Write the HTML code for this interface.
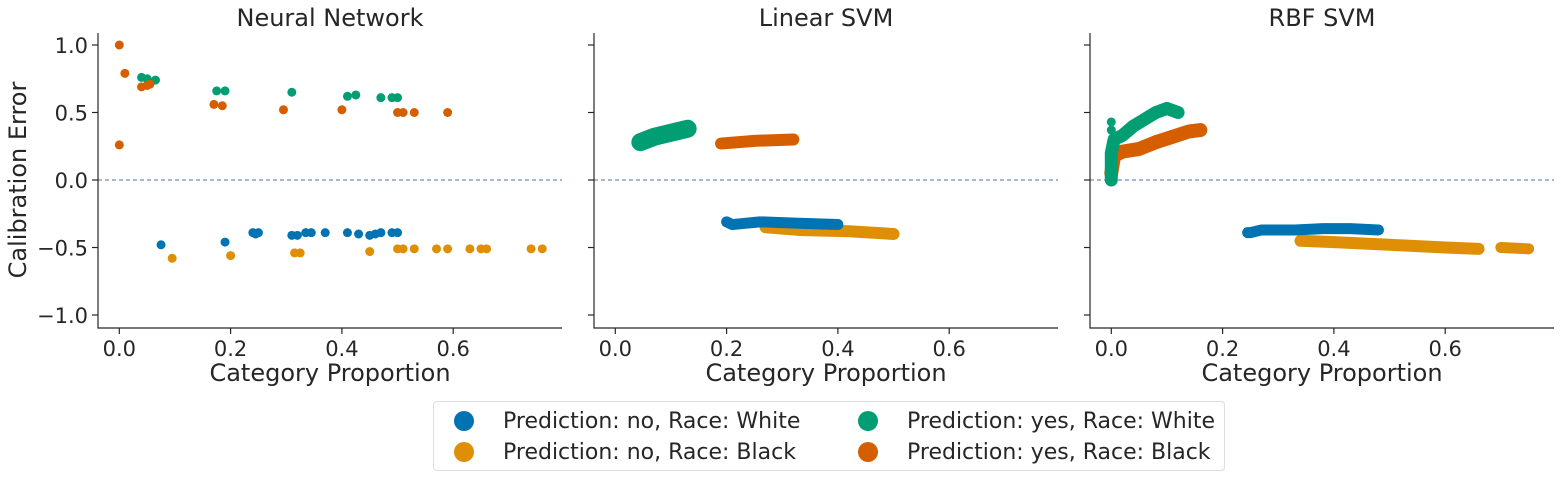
<!DOCTYPE html>
<html><head><meta charset="utf-8"><style>
body{margin:0;background:#fff;}
svg{display:block;font-family:"DejaVu Sans","Liberation Sans",sans-serif;}
</style></head><body>
<svg id="chart" width="1561" height="478" viewBox="0 0 1561 478" xmlns="http://www.w3.org/2000/svg">
<g id="legend">
<rect x="433.5" y="401.5" width="791" height="69" fill="#fff" stroke="#ddd" rx="3"/>
<g><circle cx="464" cy="421" r="10" fill="#0173b2"/><text x="503" y="428" font-size="22" fill="#262626">Prediction: no, Race: White</text></g>
<g><circle cx="464" cy="452" r="10" fill="#de8f05"/><text x="503" y="459" font-size="22" fill="#262626">Prediction: no, Race: Black</text></g>
<g><circle cx="868" cy="421" r="10" fill="#029e73"/><text x="907" y="428" font-size="22" fill="#262626">Prediction: yes, Race: White</text></g>
<g><circle cx="868" cy="452" r="10" fill="#d55e00"/><text x="907" y="459" font-size="22" fill="#262626">Prediction: yes, Race: Black</text></g>
</g>
<text x="26" y="180" font-size="24" fill="#262626" text-anchor="middle" transform="rotate(-90 26 180)">Calibration Error</text>
</svg>
<script>
const titles = ["Neural Network","Linear SVM","RBF SVM"];
const xTicks = [0,0.2,0.4,0.6];
const xTickLabels = ["0.0","0.2","0.4","0.6"];
const yTicks = [1,0.5,0,-0.5,-1];
const yTickLabels = ["1.0","0.5","0.0","\u22120.5","\u22121.0"];
const seriesNames = ["no-white","no-black","yes-white","yes-black"];
const seriesColors = ["#0173b2","#de8f05","#029e73","#d55e00"];
// Neural Network scatter points [x,y]
const nnNoWhite = [[0.075,-0.48],[0.19,-0.46],[0.24,-0.39],[0.25,-0.39],[0.245,-0.40],[0.31,-0.41],[0.32,-0.41],[0.335,-0.39],[0.345,-0.39],[0.37,-0.39],[0.41,-0.39],[0.43,-0.40],[0.45,-0.41],[0.46,-0.40],[0.47,-0.39],[0.49,-0.39],[0.50,-0.39]];
const nnNoBlack = [[0.095,-0.58],[0.2,-0.56],[0.315,-0.54],[0.325,-0.54],[0.45,-0.53],[0.50,-0.51],[0.51,-0.51],[0.53,-0.51],[0.57,-0.51],[0.59,-0.51],[0.63,-0.51],[0.65,-0.51],[0.66,-0.51],[0.74,-0.51],[0.76,-0.51]];
const nnYesWhite = [[0.04,0.76],[0.05,0.75],[0.065,0.74],[0.175,0.66],[0.19,0.66],[0.31,0.65],[0.41,0.62],[0.425,0.63],[0.47,0.61],[0.49,0.61],[0.50,0.61]];
const nnYesBlack = [[0,1.0],[0.01,0.79],[0.04,0.69],[0.05,0.70],[0.055,0.71],[0,0.26],[0.17,0.56],[0.185,0.55],[0.295,0.52],[0.40,0.52],[0.50,0.50],[0.51,0.50],[0.53,0.50],[0.59,0.50]];
// Linear SVM dense streaks [x,y]
const linNoWhite = [[0.20,-0.31],[0.21,-0.33],[0.26,-0.31],[0.33,-0.32],[0.40,-0.33]];
const linNoBlack = [[0.27,-0.35],[0.33,-0.37],[0.42,-0.38],[0.50,-0.40]];
const linYesWhite = [[0.045,0.28],[0.07,0.32],[0.10,0.35],[0.13,0.38]];
const linYesBlack = [[0.19,0.27],[0.25,0.29],[0.32,0.30]];
// RBF SVM
const rbfNoWhite = [[0.245,-0.39],[0.25,-0.39],[0.27,-0.37],[0.30,-0.37],[0.33,-0.37],[0.38,-0.36],[0.43,-0.36],[0.48,-0.37]];
const rbfNoBlack = [[0.34,-0.45],[0.40,-0.46],[0.50,-0.48],[0.60,-0.50],[0.66,-0.51]];
const rbfNoBlack2 = [[0.70,-0.50],[0.75,-0.51]];
const rbfYesWhite = [[0,0.0],[0.0,0.2],[0.005,0.3],[0.02,0.33],[0.04,0.40],[0.06,0.45],[0.08,0.50],[0.10,0.53],[0.12,0.50]];
const rbfYesWhiteDots = [[0,0.43],[0,0.37]];
const rbfYesBlack = [[0.0,0.05],[0.005,0.18],[0.02,0.21],[0.05,0.23],[0.08,0.28],[0.11,0.32],[0.14,0.36],[0.16,0.37]];

const NS="http://www.w3.org/2000/svg";
const svg=document.getElementById('chart');
const panelLeft=[98,594,1090], axW=464, axTop=33, axBot=328;
const x0off=21.3, xScale=556.5, yZero=180, yScale=135;
function mk(t,a,p){const e=document.createElementNS(NS,t);for(const k in a)e.setAttribute(k,a[k]);(p||svg).appendChild(e);return e;}
function xs(p,v){return panelLeft[p]+x0off+v*xScale;}
function ys(v){return yZero-v*yScale;}

const panels=[
 {pts:[nnNoWhite,nnNoBlack,nnYesWhite,nnYesBlack],lines:[]},
 {pts:[[],[],[],[]],lines:[[linYesWhite,2,18],[linYesBlack,3,12],[linNoBlack,1,12],[linNoWhite,0,11]]},
 {pts:[[],[],rbfYesWhiteDots,[]],lines:[[rbfNoBlack,1,12],[rbfNoBlack2,1,11],[rbfNoWhite,0,11],[rbfYesBlack,3,14],[rbfYesWhite,2,13]]}
];

for(let p=0;p<3;p++){
  const g=mk('g',{});
  
  
  const L=panelLeft[p];
  const t=mk('text',{x:L+axW/2,y:26,'font-size':24,fill:'#262626','text-anchor':'middle'},g);
  t.textContent=titles[p];
  
  
  const zl=mk('line',{x1:L,x2:L+axW,y1:ys(0),y2:ys(0),stroke:'#4c72b0','stroke-width':1.2,'stroke-dasharray':'4,3',opacity:0.8},g);
  
  
  const pd=panels[p];
  pd.lines.forEach(([arr,ci,w])=>{
    const pl=mk('polyline',{points:arr.map(d=>xs(p,d[0])+','+ys(d[1])).join(' '),fill:'none',stroke:seriesColors[ci],'stroke-width':w,'stroke-linecap':'round','stroke-linejoin':'round'},g);
    
    
  });
  pd.pts.forEach((arr,ci)=>{
    arr.forEach(d=>{
      const c=mk('circle',{cx:xs(p,d[0]),cy:ys(d[1]),r:4.5,fill:seriesColors[ci]},g);
      
      
    });
  });
  const sp=mk('path',{d:`M${L} ${axTop}V${axBot}H${L+axW}`,fill:'none',stroke:'#262626','stroke-width':1.2},g);
  
  
  yTicks.forEach((v,i)=>{
    mk('line',{x1:L-6,x2:L,y1:ys(v),y2:ys(v),stroke:'#262626','stroke-width':1.2},g);
    if(p===0){const tt=mk('text',{x:L-10,y:ys(v)+8,'font-size':21,fill:'#262626','text-anchor':'end'},g);tt.textContent=yTickLabels[i];
      
      }
  });
  xTicks.forEach((v,i)=>{
    mk('line',{x1:xs(p,v),x2:xs(p,v),y1:axBot,y2:axBot+6,stroke:'#262626','stroke-width':1.2},g);
    const tt=mk('text',{x:xs(p,v),y:axBot+28,'font-size':21,fill:'#262626','text-anchor':'middle'},g);tt.textContent=xTickLabels[i];
    
    
  });
  const xl=mk('text',{x:L+axW/2,y:381,'font-size':24,fill:'#262626','text-anchor':'middle'},g);
  xl.textContent='Category Proportion';
  
  
}
</script>
</body></html>
